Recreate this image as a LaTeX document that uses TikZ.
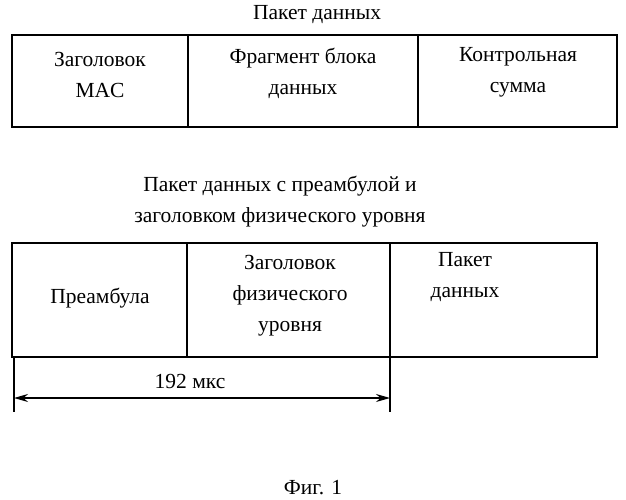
\documentclass[tikz,border=0pt]{standalone}
\usepackage{fontspec}
\setmainfont{Liberation Serif}
\usetikzlibrary{arrows.meta}
\begin{document}
\begin{tikzpicture}[x=1pt,y=-1pt,line width=1.3pt,
  txt/.style={align=center,font=\fontsize{21.5}{31}\selectfont,inner sep=0pt}]
\useasboundingbox (0,0) rectangle (626,500);
\node[txt] (t1) at (317,15) {Пакет данных};
\draw (12,35) rectangle (617,127);
\draw (188,35) -- (188,127) (418,35) -- (418,127);
\node[txt,anchor=north] (a1) at (100,52) {Заголовок\\MAC};
\node[txt,anchor=north] (a2) at (303,47) {Фрагмент блока\\данных};
\node[txt,anchor=north] (a3) at (518,47) {Контрольная\\сумма};
\node[txt] (t2) at (280,202) {Пакет данных с преамбулой и\\заголовком физического уровня};
\draw (12,243) rectangle (597,357);
\draw (187,243) -- (187,357) (390,243) -- (390,357);
\node[txt] (b1) at (100,298) {Преамбула};
\node[txt,anchor=north] (b2) at (290,255) {Заголовок\\физического\\уровня};
\node[txt,anchor=north] (b3) at (465,252) {Пакет\\данных};
\coordinate (l) at (14,398); \coordinate (r) at (390,398);
\draw (14,357) -- (14,412) (390,357) -- (390,412);
\draw[{Stealth[length=14pt,width=8pt]}-{Stealth[length=14pt,width=8pt]}] (l) -- (r);
\node[txt] (d) at (190,381) {192 мкс};
\node[txt] (f) at (313,488) {Фиг. 1};
\end{tikzpicture}
\end{document}
